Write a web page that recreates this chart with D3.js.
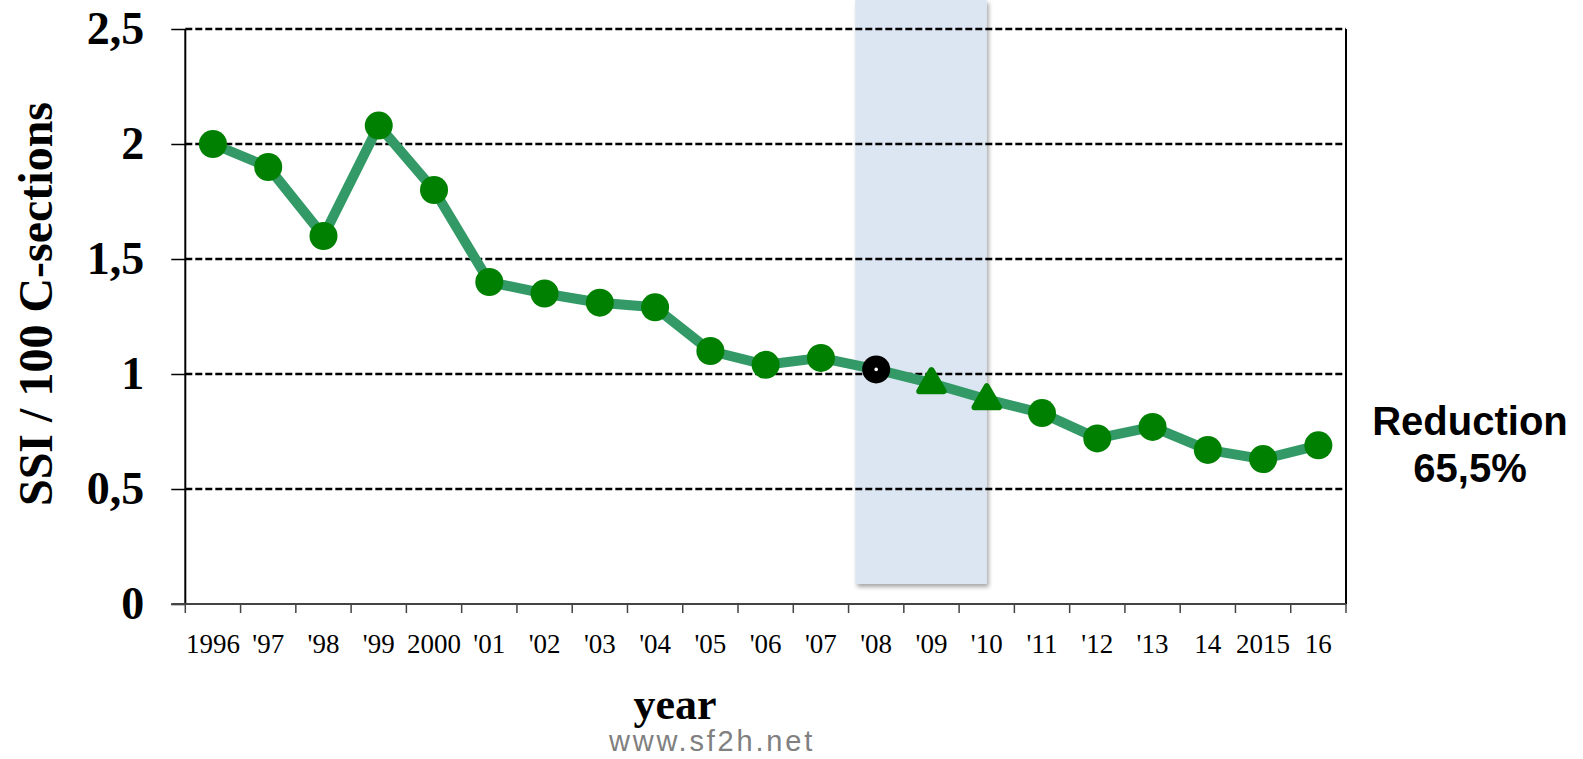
<!DOCTYPE html>
<html>
<head>
<meta charset="utf-8">
<script src="https://cdn.jsdelivr.net/npm/d3@7"></script>
<style>
  body { margin: 0; background: #fff; }
  svg { display: block; }
</style>
</head>
<body>
<div id="chart"></div>
<script>
const YEARS = ['1996', "'97", "'98", "'99", '2000', "'01", "'02", "'03", "'04", "'05",
               "'06", "'07", "'08", "'09", "'10", "'11", "'12", "'13", '14', '2015', '16']
const SSI_RATE = [2.0, 1.9, 1.6, 2.08, 1.8, 1.4, 1.35, 1.31, 1.29, 1.1,
                  1.04, 1.07, 1.02, 0.96, 0.89, 0.83, 0.72, 0.77, 0.67, 0.63, 0.69]
const MARKERS = ['circle', 'circle', 'circle', 'circle', 'circle', 'circle', 'circle', 'circle', 'circle', 'circle',
                 'circle', 'circle', 'ring', 'triangle', 'triangle', 'circle', 'circle', 'circle', 'circle', 'circle', 'circle']
const Y_TICKS = [0, 0.5, 1, 1.5, 2, 2.5]
const SHADE_FROM = "'08", SHADE_TO = "'10"

const SIZE = { WIDTH: 1583, HEIGHT: 759 },
      PLOT = { LEFT: 185.3, RIGHT: 1346, TOP: 29, BOTTOM: 604 }

const svg = d3.select('#chart')
  .append('svg')
  .attr('width', SIZE.WIDTH)
  .attr('height', SIZE.HEIGHT)

const defs = svg.append('defs')
const shadow = defs.append('filter')
  .attr('id', 'shadow')
  .attr('x', '-20%').attr('y', '-5%')
  .attr('width', '140%').attr('height', '110%')
shadow.append('feDropShadow')
  .attr('dx', 2).attr('dy', 3)
  .attr('stdDeviation', 2)
  .attr('flood-color', '#000')
  .attr('flood-opacity', 0.35)

const x = d3.scaleBand()
  .domain(YEARS)
  .range([PLOT.LEFT, PLOT.RIGHT])
const y = d3.scaleLinear()
  .domain([0, 2.5])
  .range([PLOT.BOTTOM, PLOT.TOP])

// shaded period
const bw = x.bandwidth()
svg.append('rect')
  .attr('x', x(SHADE_FROM) + bw * 0.12)
  .attr('y', 0)
  .attr('width', x(SHADE_TO) + bw * 0.5 - x(SHADE_FROM) - bw * 0.12)
  .attr('height', 584)
  .attr('fill', '#dce6f2')
  .attr('filter', 'url(#shadow)')

// dashed grid
svg.append('g')
  .selectAll('line')
  .data(Y_TICKS.filter(d => d > 0))
  .enter()
  .append('line')
  .attr('x1', PLOT.LEFT)
  .attr('x2', PLOT.RIGHT)
  .attr('y1', d => y(d))
  .attr('y2', d => y(d))
  .attr('stroke', '#000')
  .attr('stroke-width', 2.5)
  .attr('stroke-dasharray', '7,3')

// y axis
const yAxis = d3.axisLeft(y)
  .tickValues(Y_TICKS)
  .tickSize(14)
  .tickPadding(27)
  .tickFormat(d => String(d).replace('.', ','))
const gy = svg.append('g')
  .attr('transform', `translate(${PLOT.LEFT},0)`)
  .call(yAxis)
gy.select('.domain').remove()
gy.selectAll('line').attr('stroke', '#000').attr('stroke-width', 1.5)
gy.selectAll('text')
  .style('font-family', '"Liberation Serif", "Times New Roman", serif')
  .style('font-weight', 'bold')
  .style('font-size', '46px')
  .attr('fill', '#000')

svg.append('line')
  .attr('x1', PLOT.LEFT).attr('x2', PLOT.LEFT)
  .attr('y1', PLOT.TOP).attr('y2', PLOT.BOTTOM)
  .attr('stroke', '#000').attr('stroke-width', 2)
svg.append('line')
  .attr('x1', PLOT.RIGHT).attr('x2', PLOT.RIGHT)
  .attr('y1', PLOT.TOP).attr('y2', PLOT.BOTTOM)
  .attr('stroke', '#000').attr('stroke-width', 2)

// x axis
const xAxis = d3.axisBottom(x)
  .tickSize(0)
  .tickPadding(30)
const gx = svg.append('g')
  .attr('transform', `translate(0,${PLOT.BOTTOM})`)
  .call(xAxis)
gx.select('.domain').remove()
gx.selectAll('text')
  .style('font-family', '"Liberation Serif", "Times New Roman", serif')
  .style('font-size', '27px')
  .attr('fill', '#000')

svg.append('line')
  .attr('x1', PLOT.LEFT - 14).attr('x2', PLOT.RIGHT)
  .attr('y1', PLOT.BOTTOM).attr('y2', PLOT.BOTTOM)
  .attr('stroke', '#444').attr('stroke-width', 2)
svg.append('g')
  .selectAll('line')
  .data(YEARS.map(d => x(d)).concat([PLOT.RIGHT]))
  .enter()
  .append('line')
  .attr('x1', d => d).attr('x2', d => d)
  .attr('y1', PLOT.BOTTOM).attr('y2', PLOT.BOTTOM + 9)
  .attr('stroke', '#444').attr('stroke-width', 1.5)

// series line
const data = YEARS.map((d, i) => ({ year: d, value: SSI_RATE[i], marker: MARKERS[i] }))
const cx = d => x(d.year) + bw / 2

svg.append('path')
  .datum(data)
  .attr('fill', 'none')
  .attr('stroke', '#339966')
  .attr('stroke-width', 10)
  .attr('stroke-linejoin', 'round')
  .attr('d', d3.line().x(cx).y(d => y(d.value)))

svg.selectAll('circle.dot')
  .data(data.filter(d => d.marker === 'circle'))
  .enter()
  .append('circle')
  .attr('class', 'dot')
  .attr('cx', cx)
  .attr('cy', d => y(d.value))
  .attr('r', 14)
  .attr('fill', '#008000')

const ring = data.filter(d => d.marker === 'ring')
svg.selectAll('circle.ring')
  .data(ring)
  .enter()
  .append('circle')
  .attr('class', 'ring')
  .attr('cx', cx)
  .attr('cy', d => y(d.value))
  .attr('r', 14)
  .attr('fill', '#000')
svg.selectAll('circle.ringdot')
  .data(ring)
  .enter()
  .append('circle')
  .attr('class', 'ringdot')
  .attr('cx', cx)
  .attr('cy', d => y(d.value))
  .attr('r', 1.8)
  .attr('fill', '#fff')

svg.selectAll('path.tri')
  .data(data.filter(d => d.marker === 'triangle'))
  .enter()
  .append('path')
  .attr('class', 'tri')
  .attr('d', d3.symbol().type(d3.symbolTriangle).size(260))
  .attr('transform', d => `translate(${cx(d)},${y(d.value) + 1})`)
  .attr('fill', '#008000')
  .attr('stroke', '#008000')
  .attr('stroke-width', 6)
  .attr('stroke-linejoin', 'round')

// titles
svg.append('text')
  .attr('transform', 'translate(52,304) rotate(-90)')
  .attr('text-anchor', 'middle')
  .style('font-family', '"Liberation Serif", "Times New Roman", serif')
  .style('font-weight', 'bold')
  .style('font-size', '48px')
  .text('SSI / 100 C-sections')

svg.append('text')
  .attr('x', 675)
  .attr('y', 719)
  .attr('text-anchor', 'middle')
  .style('font-family', '"Liberation Serif", "Times New Roman", serif')
  .style('font-weight', 'bold')
  .style('font-size', '44px')
  .text('year')

svg.append('text')
  .attr('x', 712)
  .attr('y', 751)
  .attr('text-anchor', 'middle')
  .attr('fill', '#808080')
  .style('font-family', '"Liberation Sans", Arial, sans-serif')
  .style('font-size', '29px')
  .style('letter-spacing', '2.8px')
  .text('www.sf2h.net')

const note = svg.append('text')
  .attr('text-anchor', 'middle')
  .style('font-family', '"Liberation Sans", Arial, sans-serif')
  .style('font-weight', 'bold')
  .style('font-size', '40px')
note.append('tspan').attr('x', 1470).attr('y', 435).text('Reduction')
note.append('tspan').attr('x', 1470).attr('y', 482).text('65,5%')
</script>
</body>
</html>
